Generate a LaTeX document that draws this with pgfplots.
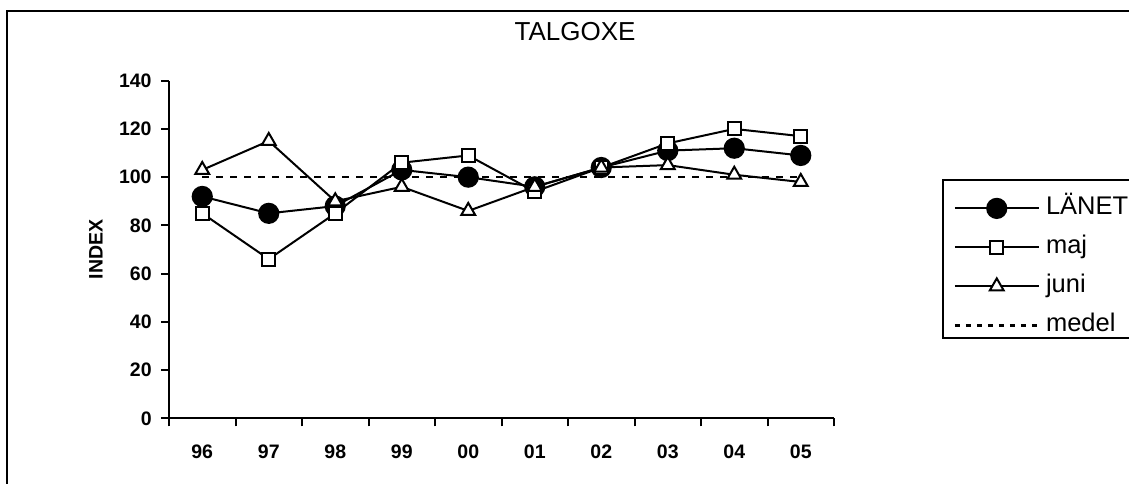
\documentclass[border=0pt]{standalone}
\usepackage{fontspec}
\setmainfont{Liberation Sans}
\usepackage{pgfplots}
\pgfplotsset{compat=1.18}

\begin{document}
\begin{tikzpicture}
% page area and outer frame
\useasboundingbox (0,0) rectangle (564.5pt,241.5pt);
\draw[line width=1.3pt] (3.5pt,-10pt) -- (3.5pt,236pt) -- (580pt,236pt);
% legend frame
\draw[line width=1pt, fill=white] (471.5pt,72.5pt) rectangle (580pt,151.5pt);

\begin{axis}[
  at={(84.5pt,32.35pt)}, anchor=south west,
  scale only axis,
  width=332.5pt, height=168.8pt,
  xmin=-0.5, xmax=9.5,
  ymin=0, ymax=140,
  axis x line*=bottom, axis y line*=left,
  axis line style={line width=1pt},
  xtick={-0.5,0.5,...,9.5},
  x tick label as interval,
  xticklabels={96,97,98,99,00,01,02,03,04,05},
  ytick={0,20,...,140},
  tick align=outside,
  major tick length=4pt,
  tick style={line width=1pt, black},
  /pgf/number format/assume math mode=true,
  ticklabel style={font=\fontsize{9.75}{11}\selectfont\bfseries, inner sep=0pt},
  yticklabel style={xshift=-4.5pt},
  xticklabel style={yshift=-9.3pt},
  ylabel={INDEX},
  ylabel style={at={(axis description cs:-0.1098,0.5)}, anchor=center,
    font=\fontsize{9.75}{11}\selectfont\bfseries},
  title={TALGOXE},
  title style={at={(axis description cs:0.6105,1.085)}, anchor=base,
    font=\fontsize{13}{15}\selectfont},
  clip=false,
  legend style={draw=none, fill=none, at={(1.179,0.66)}, anchor=north west,
    inner sep=0pt, row sep=7pt, column sep=3pt,
    font=\fontsize{12.75}{14}\selectfont,
    nodes={inner sep=0pt, text height=9.5pt, text depth=3pt}},
  legend cell align=left,
  legend image code/.code={
    \draw[mark repeat=2,mark phase=2,#1] plot coordinates {(0pt,0pt) (21pt,0pt) (42pt,0pt)};},
]
% reference level 100
\addplot[black, line width=1.3pt, dash pattern=on 3.5pt off 3.5pt, forget plot]
  coordinates {(0,100) (9,100)};

\addplot[black, line width=1pt, mark=*, mark size=4.8pt,
  mark options={solid, fill=black}]
  coordinates {(0,92) (1,85) (2,88) (3,103) (4,100) (5,96) (6,104) (7,111) (8,112) (9,109)};
\addlegendentry{LÄNET}

\addplot[black, line width=1pt, mark=square*, mark size=3.25pt,
  mark options={solid, fill=white, line width=1pt}]
  coordinates {(0,85) (1,66) (2,85) (3,106) (4,109) (5,94) (6,104) (7,114) (8,120) (9,117)};
\addlegendentry{maj}

\addplot[black, line width=1pt, mark=triangle*, mark size=4pt,
  mark options={solid, fill=white, line width=1pt}]
  coordinates {(0,103) (1,115) (2,90) (3,96) (4,86) (5,96) (6,104) (7,105) (8,101) (9,98)};
\addlegendentry{juni}

\addlegendimage{black, line width=1.3pt, dash pattern=on 2.5pt off 3pt}
\addlegendentry{medel}
\end{axis}
\end{tikzpicture}
\end{document}
